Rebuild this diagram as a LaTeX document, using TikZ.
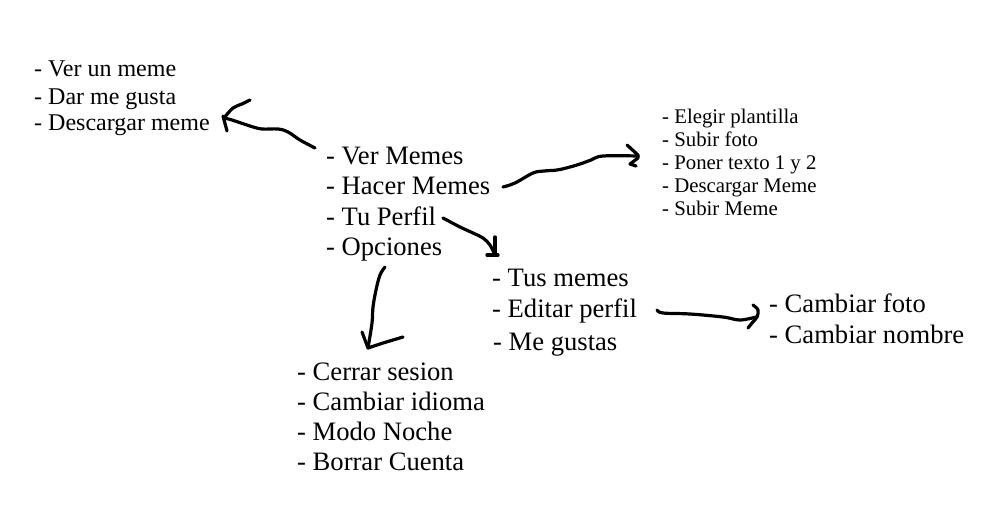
\documentclass[tikz,border=0pt]{standalone}
\usepackage{fontspec}
\setmainfont{Liberation Serif}
\begin{document}
\begin{tikzpicture}[x=1pt,y=-1pt,
  itemA/.style={anchor=base west,inner sep=0pt,font=\fontsize{24}{27}\selectfont},
  itemB/.style={anchor=base west,inner sep=0pt,font=\fontsize{26.6}{31}\selectfont},
  itemC/.style={anchor=base west,inner sep=0pt,font=\fontsize{20.8}{23}\selectfont},
  hand/.style={draw=black,line width=3.2pt,line cap=round,line join=round}]
\useasboundingbox[fill=white] (0,0) rectangle (998,512);

% left list
\node[itemA] (a1) at (34,76) {- Ver un meme};
\node[itemA] (a2) at (34,104) {- Dar me gusta};
\node[itemA] (a3) at (34,130) {- Descargar meme};

% main list
\node[itemB] (m1) at (326,164) {- Ver Memes};
\node[itemB] (m2) at (326,194) {- Hacer Memes};
\node[itemB] (m3) at (326,225) {- Tu Perfil};
\node[itemB] (m4) at (326,255) {- Opciones};

% right small list
\node[itemC] (h1) at (662,123) {- Elegir plantilla};
\node[itemC] (h2) at (662,146) {- Subir foto};
\node[itemC] (h3) at (662,169) {- Poner texto 1 y 2};
\node[itemC] (h4) at (662,192) {- Descargar Meme};
\node[itemC] (h5) at (662,215) {- Subir Meme};

% profile list
\node[itemB] (p1) at (492,286) {- Tus memes};
\node[itemB] (p2) at (492,317) {- Editar perfil};
\node[itemB] (p3) at (493,350) {- Me gustas};

% edit list
\node[itemB] (e1) at (769,312) {- Cambiar foto};
\node[itemB] (e2) at (769,343) {- Cambiar nombre};

% options list
\node[itemB] (o1) at (297,380) {- Cerrar sesion};
\node[itemB] (o2) at (297,410) {- Cambiar idioma};
\node[itemB] (o3) at (297,440) {- Modo Noche};
\node[itemB] (o4) at (297,470) {- Borrar Cuenta};

% connector end points
\coordinate (c1s) at (315,148);
\coordinate (c1e) at (224,118);
\coordinate (c2s) at (503,187);
\coordinate (c2e) at (638,156);
\coordinate (c3s) at (443,218);
\coordinate (c3e) at (495,255);
\coordinate (c4s) at (385,267);
\coordinate (c4e) at (368,348);
\coordinate (c5s) at (657,310);
\coordinate (c5e) at (756,317);

% Ver Memes -> left list
\draw[hand] plot[smooth,tension=0.6] coordinates {(c1s) (300,140) (288,132) (278,129) (262,129) (250,126) (232,120) (c1e)};
\draw[hand] plot[smooth,tension=0.6] coordinates {(c1e) (233,108) (242,104) (250,100)};
\draw[hand] (223,116) -- (227,131);

% Hacer Memes -> right list
\draw[hand] plot[smooth,tension=0.6] coordinates {(c2s) (515,183) (533,173) (544,171) (557,170) (570,167) (583,163) (591,160) (603,156) (c2e)};
\draw[hand] (627,145) -- (638,155) -- (638,158) -- (630,164) -- (636,166);

% Tu Perfil -> profile list
\draw[hand] plot[smooth,tension=0.6] coordinates {(c3s) (460,227) (473,233) (483,238) (490,245) (c3e)};
\draw[hand] (495,237) -- (c3e);
\draw[hand] (487,255) -- (498,255);

% Opciones -> options list
\draw[hand] plot[smooth,tension=0.6] coordinates {(c4s) (380,275) (376,290) (373,307) (372,323) (c4e)};
\draw[hand] (362,332) -- (c4e) -- (383,343) -- (403,337);

% Editar perfil -> edit list
\draw[hand] plot[smooth,tension=0.6] coordinates {(c5s) (663,313) (690,314) (723,317) (740,320) (c5e)};
\draw[hand] plot[smooth,tension=0.6] coordinates {(753,305) (758,310) (757,317) (752,323) (748,328)};
\end{tikzpicture}
\end{document}
